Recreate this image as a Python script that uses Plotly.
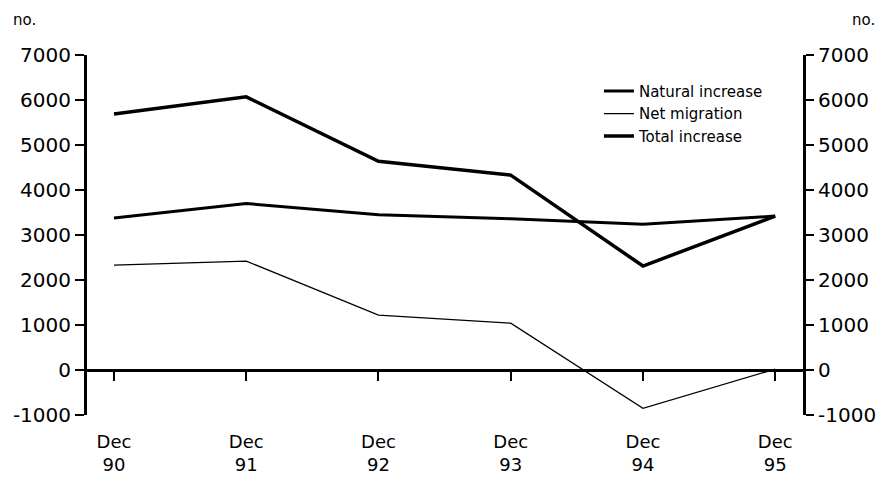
import plotly.graph_objects as go

categories = ["Dec 90", "Dec 91", "Dec 92", "Dec 93", "Dec 94", "Dec 95"]
tick_labels = ["Dec<br>90", "Dec<br>91", "Dec<br>92", "Dec<br>93", "Dec<br>94", "Dec<br>95"]
natural_increase = [3380, 3700, 3450, 3360, 3240, 3420]
net_migration = [2330, 2420, 1220, 1040, -850, 20]
total_increase = [5690, 6070, 4640, 4330, 2310, 3420]
y_ticks = [-1000, 0, 1000, 2000, 3000, 4000, 5000, 6000, 7000]
y_tick_text = ["-1000", "0", "1000", "2000", "3000", "4000", "5000", "6000", "7000"]

FONT = "DejaVu Sans"
xr = [-0.204, 5.21]
yr = [-1000, 7000]

fig = go.Figure()
fig.add_trace(go.Scatter(x=categories, y=natural_increase, mode="lines",
                         name="Natural increase", line=dict(color="black", width=3)))
fig.add_trace(go.Scatter(x=categories, y=net_migration, mode="lines",
                         name="Net migration", line=dict(color="black", width=1.3),
                         xaxis="x2"))
fig.add_trace(go.Scatter(x=categories, y=total_increase, mode="lines",
                         name="Total increase", line=dict(color="black", width=3.5),
                         yaxis="y2"))

fig.update_layout(
    width=886, height=484,
    margin=dict(l=79, r=91, t=47, b=77, autoexpand=False),
    paper_bgcolor="white", plot_bgcolor="white",
    font=dict(family=FONT, color="black", size=17),
    showlegend=True,
    legend=dict(x=0.715, y=0.945, xanchor="left", yanchor="top",
                bgcolor="rgba(0,0,0,0)", font=dict(size=15, family=FONT),
                tracegroupgap=0),
    xaxis=dict(type="category", categoryarray=categories, range=xr,
               tickvals=categories, ticktext=tick_labels, automargin=False,
               showline=False, ticks="", showgrid=False, zeroline=False,
               tickfont=dict(size=18), ticklabelstandoff=14),
    xaxis2=dict(type="category", categoryarray=categories, range=xr,
                overlaying="x", anchor="free", position=0.125, automargin=False,
                showline=True, linecolor="black", linewidth=3,
                ticks="outside", ticklen=9, tickwidth=2, tickcolor="black",
                showticklabels=False, showgrid=False, zeroline=False),
    yaxis=dict(range=yr, tickvals=y_ticks, ticktext=y_tick_text, automargin=False,
               showgrid=False, zeroline=False,
               showline=True, linecolor="black", linewidth=3,
               ticks="outside", ticklen=9, tickwidth=2, tickcolor="black",
               tickfont=dict(size=20)),
    yaxis2=dict(range=yr, tickvals=y_ticks, ticktext=y_tick_text, automargin=False,
                overlaying="y", side="right",
                showgrid=False, zeroline=False,
                showline=True, linecolor="black", linewidth=3,
                ticks="outside", ticklen=8, tickwidth=2, tickcolor="black",
                tickfont=dict(size=20)),
    annotations=[
        dict(text="no.", xref="paper", yref="paper", x=-0.106, y=1.097,
             xanchor="left", yanchor="middle", showarrow=False,
             font=dict(size=15, family=FONT)),
        dict(text="no.", xref="paper", yref="paper", x=1.104, y=1.097,
             xanchor="right", yanchor="middle", showarrow=False,
             font=dict(size=15, family=FONT)),
    ],
)

fig.write_html("out.html")
